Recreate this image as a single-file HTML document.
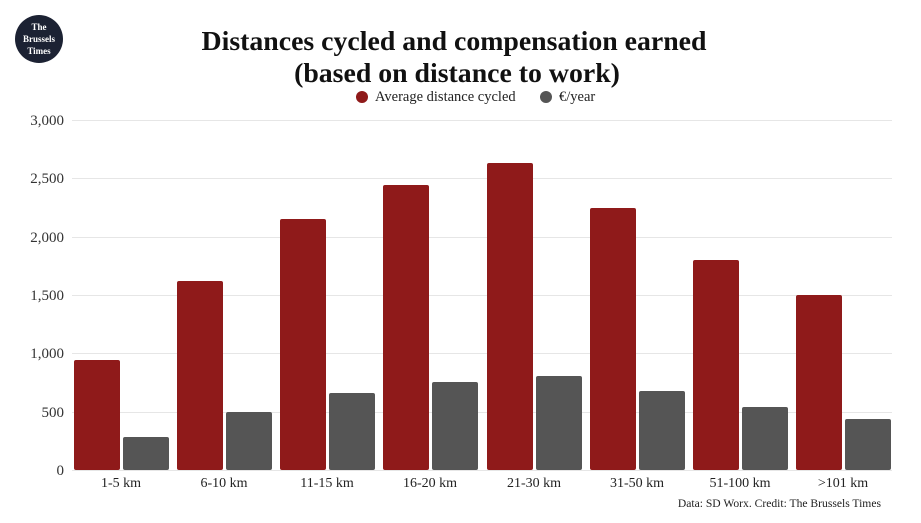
<!DOCTYPE html>
<html><head><meta charset="utf-8"><style>body{margin:0;background:#fff}</style></head><body>
<svg width="921" height="518" xmlns="http://www.w3.org/2000/svg" font-family="Liberation Serif, serif">
<rect width="921" height="518" fill="#fff"/>
<circle cx="39" cy="39" r="24" fill="#1c2233"/>
<text x="39" y="30" font-size="9" font-weight="bold" fill="#fff" text-anchor="middle">The</text>
<text x="39" y="42" font-size="9" font-weight="bold" fill="#fff" text-anchor="middle">Brussels</text>
<text x="39" y="54" font-size="9" font-weight="bold" fill="#fff" text-anchor="middle">Times</text>
<text x="454" y="50" font-size="27.8" font-weight="bold" fill="#111" text-anchor="middle">Distances cycled and compensation earned</text>
<text x="457" y="82" font-size="27.8" font-weight="bold" fill="#111" text-anchor="middle">(based on distance to work)</text>
<circle cx="362" cy="97" r="6" fill="#8f1a1a"/>
<text x="375" y="101" font-size="14.5" fill="#222">Average distance cycled</text>
<circle cx="546" cy="97" r="6" fill="#555"/>
<text x="559" y="101" font-size="14.5" fill="#222">€/year</text>
<g stroke="#e6e6e6" stroke-width="1">
<line x1="72" x2="892" y1="120.5" y2="120.5"/><line x1="72" x2="892" y1="178.5" y2="178.5"/>
<line x1="72" x2="892" y1="237.5" y2="237.5"/><line x1="72" x2="892" y1="295.5" y2="295.5"/>
<line x1="72" x2="892" y1="353.5" y2="353.5"/><line x1="72" x2="892" y1="412.5" y2="412.5"/>
<line x1="72" x2="892" y1="470.5" y2="470.5"/>
</g>
<g font-size="15" fill="#333" text-anchor="end">
<text x="64" y="125">3,000</text><text x="64" y="183">2,500</text><text x="64" y="242">2,000</text>
<text x="64" y="300">1,500</text><text x="64" y="358">1,000</text><text x="64" y="417">500</text><text x="64" y="475">0</text>
</g>
<g fill="#8f1a1a">
<rect x="74" y="360" width="46" height="110" rx="2"/>
<rect x="177" y="281" width="46" height="189" rx="2"/>
<rect x="280" y="219" width="46" height="251" rx="2"/>
<rect x="383" y="185" width="46" height="285" rx="2"/>
<rect x="487" y="163" width="46" height="307" rx="2"/>
<rect x="590" y="208" width="46" height="262" rx="2"/>
<rect x="693" y="260" width="46" height="210" rx="2"/>
<rect x="796" y="295" width="46" height="175" rx="2"/>
</g>
<g fill="#555">
<rect x="123" y="437" width="46" height="33" rx="2"/>
<rect x="226" y="412" width="46" height="58" rx="2"/>
<rect x="329" y="393" width="46" height="77" rx="2"/>
<rect x="432" y="382" width="46" height="88" rx="2"/>
<rect x="536" y="376" width="46" height="94" rx="2"/>
<rect x="639" y="391" width="46" height="79" rx="2"/>
<rect x="742" y="407" width="46" height="63" rx="2"/>
<rect x="845" y="419" width="46" height="51" rx="2"/>
</g>
<g font-size="14" fill="#222" text-anchor="middle">
<text x="121" y="487">1-5 km</text><text x="224" y="487">6-10 km</text><text x="327" y="487">11-15 km</text>
<text x="430" y="487">16-20 km</text><text x="534" y="487">21-30 km</text><text x="637" y="487">31-50 km</text>
<text x="740" y="487">51-100 km</text><text x="843" y="487">&gt;101 km</text>
</g>
<text x="881" y="507" font-size="11.6" fill="#222" text-anchor="end">Data: SD Worx. Credit: The Brussels Times</text>
</svg>
</body></html>
